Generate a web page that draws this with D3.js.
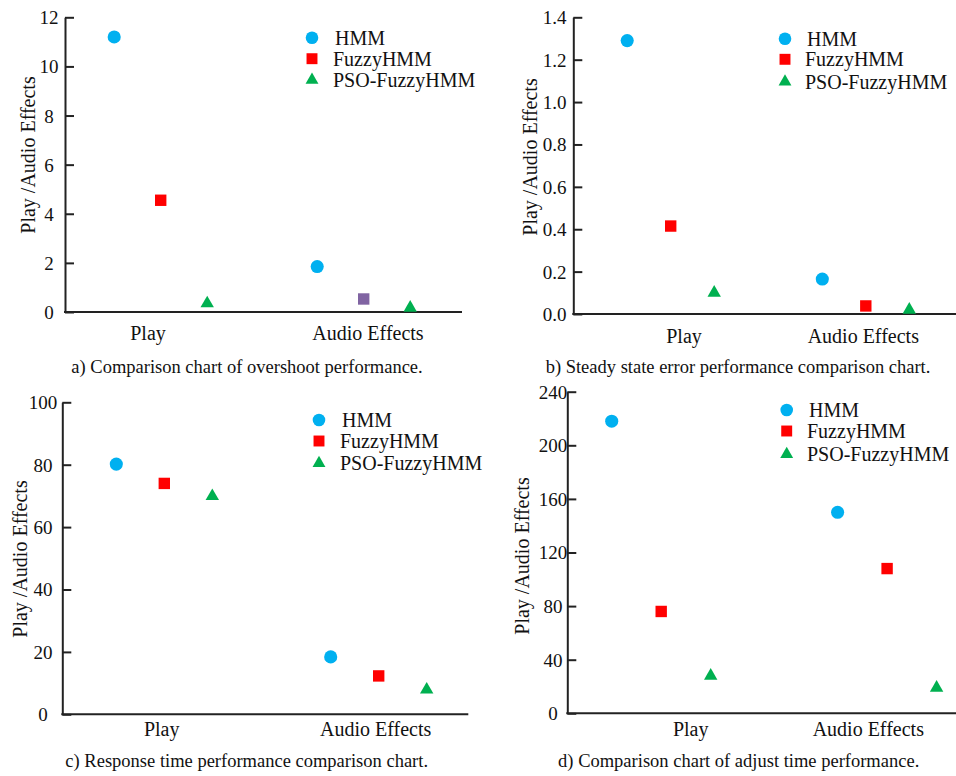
<!DOCTYPE html>
<html>
<head>
<meta charset="utf-8">
<script src="https://cdn.jsdelivr.net/npm/d3@7"></script>
<style>
  html, body { margin: 0; padding: 0; background: #fff; }
  svg { display: block; }
</style>
</head>
<body>
<svg id="chart" width="956" height="776" style="font-family:'Liberation Serif'"></svg>
<script>
// ---------------- data ----------------
const categories = ["Play", "Audio Effects"];
const seriesNames = ["HMM", "FuzzyHMM", "PSO-FuzzyHMM"];

const overshootHMM   = [11.2, 1.85];
const overshootFuzzy = [4.55, 0.53];
const overshootPSO   = [0.35, 0.17];

const steadyHMM   = [1.29, 0.165];
const steadyFuzzy = [0.415, 0.038];
const steadyPSO   = [0.10, 0.02];

const responseHMM   = [80.2, 18.4];
const responseFuzzy = [74.0, 12.3];
const responsePSO   = [69.9, 7.9];

const adjustHMM   = [218, 150];
const adjustFuzzy = [76, 108];
const adjustPSO   = [28, 19];

const overshootTicks = [0, 2, 4, 6, 8, 10, 12];
const steadyTicks    = [0, 0.2, 0.4, 0.6, 0.8, 1.0, 1.2, 1.4];
const responseTicks  = [0, 20, 40, 60, 80, 100];
const adjustTicks    = [0, 40, 80, 120, 160, 200, 240];

const yAxisTitle = "Play /Audio Effects";
const captions = [
  "a) Comparison chart of overshoot performance.",
  "b) Steady state error performance comparison chart.",
  "c) Response time performance comparison chart.",
  "d) Comparison chart of adjust time performance."
];

// ---------------- styles / layout ----------------
const FONT = "'Liberation Serif', 'Times New Roman', serif";
const seriesColors = ["#00b0f0", "#ff0000", "#00b050"];
const seriesSymbols = [d3.symbolCircle, d3.symbolSquare, d3.symbolTriangle];
const symbolSizes = [135, 130, 78];

const panels = [
  { values: [overshootHMM, overshootFuzzy, overshootPSO], ticks: overshootTicks, fmt: d3.format("d"),
    yMax: 12, axisX: 65, yBottom: 312, yTop: 17.3, xEnd: 462,
    groupCenters: [160.7, 363.7], spread: 46.5, labelX: [148, 368], labelY: 340,
    tickCenter: 49, titleX: 28, titleY: 155, caption: captions[0], capX: 247, capY: 373,
    legX: 312, legTextX: 333, legY: [37.7, 58.7, 80],
    override: { s: 1, c: 1, color: "#8064a2" } },
  { values: [steadyHMM, steadyFuzzy, steadyPSO], ticks: steadyTicks, fmt: d3.format(".1f"),
    yMax: 1.4, axisX: 573.3, yBottom: 314, yTop: 17.3, xEnd: 956,
    groupCenters: [670.7, 865.8], spread: 43.5, labelX: [684, 863.3], labelY: 342.5,
    tickCenter: 554.5, titleX: 530, titleY: 157, caption: captions[1], capX: 738, capY: 373,
    legX: 785, legTextX: 805, legY: [38.7, 59.3, 81.7] },
  { values: [responseHMM, responseFuzzy, responsePSO], ticks: responseTicks, fmt: d3.format("d"),
    yMax: 100, axisX: 62.3, yBottom: 714.3, yTop: 402.3, xEnd: 468.3,
    groupCenters: [164.3, 378.7], spread: 48, labelX: [161.7, 375.7], labelY: 735.7,
    tickCenter: 43, titleX: 20, titleY: 559, caption: captions[2], capX: 246.7, capY: 767.3,
    legX: 319, legTextX: 340, legY: [420, 441, 463.3] },
  { values: [adjustHMM, adjustFuzzy, adjustPSO], ticks: adjustTicks, fmt: d3.format("d"),
    yMax: 240, axisX: 567.3, yBottom: 713.3, yTop: 391.7, xEnd: 956,
    groupCenters: [661.2, 887.1], spread: 49.5, labelX: [690.7, 868.3], labelY: 735.7,
    tickCenter: 553, titleX: 521.7, titleY: 556, caption: captions[3], capX: 738.7, capY: 767.3,
    legX: 786.7, legTextX: 807, legY: [410, 431, 454.3] }
];

const svg = d3.select("#chart");

panels.forEach(p => {
  const g = svg.append("g");

  const y = d3.scaleLinear().domain([0, p.yMax]).range([p.yBottom, p.yTop]);
  const xCat = d3.scaleOrdinal().domain(categories).range(p.groupCenters);
  const xSeries = d3.scalePoint().domain(seriesNames).range([-p.spread, p.spread]);
  const xLabel = d3.scaleOrdinal().domain(categories).range(p.labelX);

  // y axis with inward ticks
  const yAxis = d3.axisLeft(y).tickValues(p.ticks).tickFormat(p.fmt).tickSize(-9).tickSizeOuter(0);
  const ax = g.append("g").attr("transform", `translate(${p.axisX},0)`).call(yAxis);
  ax.attr("font-family", null).attr("font-size", null);
  ax.select(".domain").attr("stroke", "#222").attr("stroke-width", 2);
  ax.selectAll(".tick line").attr("stroke", "#222").attr("stroke-width", 2);
  ax.selectAll(".tick text")
    .attr("x", p.tickCenter - p.axisX)
    .attr("text-anchor", "middle")
    .attr("dy", "0.34em")
    .style("font-family", FONT)
    .style("font-size", "19px")
    .attr("fill", "#111");

  // x axis line
  g.append("line")
    .attr("x1", p.axisX - 1).attr("x2", p.xEnd)
    .attr("y1", y(0)).attr("y2", y(0))
    .attr("stroke", "#222").attr("stroke-width", 2);

  // category labels
  g.selectAll(".cat").data(categories).enter().append("text")
    .attr("x", d => xLabel(d)).attr("y", p.labelY)
    .attr("text-anchor", "middle")
    .style("font-family", FONT).style("font-size", "20px").attr("fill", "#111")
    .text(d => d);

  // y title
  g.append("text")
    .attr("transform", `translate(${p.titleX},${p.titleY}) rotate(-90)`)
    .attr("text-anchor", "middle").attr("dy", "0.35em")
    .style("font-family", FONT).style("font-size", "20px").attr("fill", "#111")
    .text(yAxisTitle);

  // caption
  g.append("text")
    .attr("x", p.capX).attr("y", p.capY)
    .attr("text-anchor", "middle")
    .style("font-family", FONT).style("font-size", "18.5px").attr("fill", "#111")
    .text(p.caption);

  // points
  seriesNames.forEach((s, si) => {
    const sym = d3.symbol().type(seriesSymbols[si]).size(symbolSizes[si]);
    g.selectAll(null).data(p.values[si].map((v, ci) => ({ v, ci }))).enter().append("path")
      .attr("d", sym)
      .attr("transform", d => `translate(${xCat(categories[d.ci]) + xSeries(s)},${y(d.v)})`)
      .attr("fill", d => (p.override && p.override.s === si && p.override.c === d.ci) ? p.override.color : seriesColors[si]);
  });

  // legend
  seriesNames.forEach((s, si) => {
    const sym = d3.symbol().type(seriesSymbols[si]).size(symbolSizes[si] * 0.92);
    g.append("path").attr("d", sym)
      .attr("transform", `translate(${p.legX},${p.legY[si]})`)
      .attr("fill", seriesColors[si]);
    g.append("text")
      .attr("x", p.legTextX + (si === 0 ? 2 : 0)).attr("y", p.legY[si])
      .attr("dy", "0.35em")
      .style("font-family", FONT).style("font-size", "20px").attr("fill", "#111")
      .text(s);
  });
});
</script>
</body>
</html>
